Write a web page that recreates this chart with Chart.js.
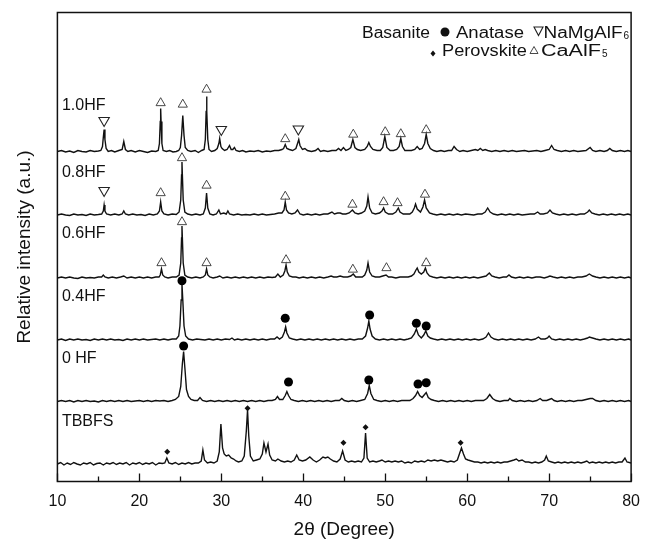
<!DOCTYPE html>
<html>
<head>
<meta charset="utf-8">
<script src="https://cdn.jsdelivr.net/npm/chart.js@4.4.1/dist/chart.umd.min.js"></script>
<style>
  body { margin: 0; background: #fff; }
  canvas { display: block; }
</style>
</head>
<body>
<canvas id="xrd" width="650" height="545"></canvas>
<script>
// XRD patterns, stacked. y values are heights above each pattern's own baseline
var names = ['1.0HF', '0.8HF', '0.6HF', '0.4HF', '0 HF', 'TBBFS'];
var offsets = [330, 266.5, 203.5, 141.5, 80, 17.5];
var labelY = [371.5, 305, 243.5, 180.5, 119, 56];
var xTicks = [10, 20, 30, 40, 50, 60, 70, 80];

var hf10 = [[10,0],[10.5,1],[11,-0.5],[11.5,0.5],[12,-1],[12.5,1],[13,0],[13.5,-0.5],[14,1],[14.5,0],[15,0.5],[15.3,1],[15.5,5],[15.6,14],[15.7,22],[15.8,12],[15.95,3],[16.2,0],[16.6,1],[17,-0.5],[17.5,1],[17.9,2],[18.1,10],[18.3,2],[18.6,0],[19,1],[19.5,-0.5],[20,1],[20.5,0],[21,-1],[21.5,0.5],[22,0],[22.3,1],[22.45,8],[22.55,30],[22.6,43],[22.65,30],[22.75,8],[22.9,1],[23.3,0],[23.7,1],[24.1,-0.5],[24.5,0],[24.8,1],[25.0,4],[25.15,16],[25.3,36],[25.45,16],[25.6,4],[25.9,1],[26.3,0],[26.8,1],[27.2,-1],[27.6,1],[27.9,2],[28.05,12],[28.15,40],[28.2,55],[28.25,40],[28.35,12],[28.5,2],[28.8,0],[29.2,1],[29.5,3],[29.7,8],[29.8,13],[29.95,5],[30.1,3],[30.4,1],[30.7,2],[31.0,6],[31.2,2],[31.4,2],[31.6,4],[31.8,1],[32.2,0],[32.6,1],[33,-0.5],[33.5,0.5],[34,0],[34.5,1],[35,-0.5],[35.5,0.5],[36,0],[36.5,1],[37,1],[37.4,2],[37.6,3],[37.8,7],[38.0,3],[38.3,2],[38.7,1],[39.1,3],[39.3,8],[39.45,12],[39.6,6],[39.9,2],[40.2,3],[40.5,1],[41,0],[41.5,1],[41.8,3],[42.1,0],[42.5,1],[43,0],[43.5,1],[44,1],[44.3,3],[44.6,1],[44.9,4],[45.2,1],[45.5,2],[45.8,4],[46.05,12],[46.3,4],[46.6,2],[47,1],[47.5,2],[47.8,5],[48.0,9],[48.2,5],[48.5,2],[49,1],[49.4,1],[49.7,4],[49.95,15],[50.2,4],[50.6,1],[51,1],[51.4,2],[51.7,5],[51.9,13],[52.1,5],[52.4,1],[52.8,1],[53.2,1],[53.6,2],[53.9,5],[54.2,2],[54.5,3],[54.8,8],[55.0,17],[55.2,8],[55.5,3],[55.9,1],[56.3,0],[56.8,1],[57.2,0],[57.7,1],[58.1,1],[58.4,5],[58.7,2],[59.1,0],[59.5,1],[60,0],[60.5,1],[61,2],[61.3,1],[61.6,3],[61.9,1],[62.2,2],[62.5,1],[63,0],[63.5,1],[64,0],[64.5,1],[65,0],[65.5,1],[66,0],[66.5,0.5],[67,1],[67.5,0],[68,0.5],[68.5,1],[69,0],[69.5,1],[70,2],[70.3,6],[70.6,2],[71,1],[71.5,0],[72,1],[72.5,0],[73,1],[73.5,0],[74,0.5],[74.5,1],[75.0,4],[75.3,1],[75.7,0],[76.2,1],[76.7,0],[77.1,1],[77.4,3],[77.7,1],[78.2,0],[78.7,1],[79.2,0],[79.6,1],[80,0]];

var hf08 = [[10,0],[10.5,1],[11,0],[11.5,-0.5],[12,1],[12.5,0],[13,0.5],[13.5,-0.5],[14,1],[14.5,0],[15,0.5],[15.4,1],[15.6,4],[15.7,10],[15.8,4],[16,1],[16.5,0],[17,1],[17.5,0],[17.9,1],[18.1,4],[18.3,1],[18.7,0],[19.2,1],[19.7,0],[20.2,0.5],[20.7,-0.5],[21.2,1],[21.7,0],[22.2,1],[22.45,4],[22.6,13],[22.75,4],[23,1],[23.5,0],[24,1],[24.5,0.5],[24.85,3],[25.05,15],[25.15,40],[25.2,53],[25.25,40],[25.35,15],[25.55,3],[25.9,1],[26.4,0],[26.9,1],[27.4,0],[27.8,1],[28.05,7],[28.2,22],[28.35,7],[28.6,1],[29,0],[29.4,1],[29.7,5],[29.9,1],[30.3,2],[30.6,1],[30.8,4],[31.0,1],[31.5,0],[32,1],[32.5,0],[33,0.5],[33.5,0],[34,1],[34.5,0],[35,1],[35.5,0],[36,0.5],[36.5,1],[37,2],[37.4,2],[37.65,5],[37.8,13],[37.95,5],[38.2,2],[38.6,1],[39,2],[39.3,5],[39.6,1],[40,0],[40.5,1],[41,0],[41.5,1],[42,0],[42.5,1],[43,1],[43.5,3],[43.8,1],[44.2,2],[44.5,2],[44.8,1],[45.2,1],[45.6,2],[46.0,5],[46.3,2],[46.7,1],[47.1,2],[47.5,4],[47.75,9],[47.9,18],[48.1,7],[48.4,2],[48.8,1],[49.3,2],[49.6,4],[49.8,7],[50.0,3],[50.4,1],[50.9,1],[51.3,3],[51.6,7],[51.8,3],[52.2,1],[52.6,1],[53,1],[53.3,3],[53.55,7],[53.7,11],[53.9,6],[54.3,3],[54.6,8],[54.8,15],[55.0,7],[55.4,2],[55.8,1],[56.3,0],[56.8,1],[57.3,0],[57.8,1],[58.3,0],[58.8,1],[59.3,0],[59.8,1],[60.3,0.5],[60.8,0],[61.3,1],[61.8,1],[62.2,3],[62.5,7],[62.8,3],[63.2,1],[63.7,0],[64.2,1],[64.7,0],[65.2,1],[65.7,0],[66.2,1],[66.7,0],[67.2,0.5],[67.7,1],[68.2,1],[68.6,3],[68.9,1],[69.3,1],[69.8,2],[70.1,5],[70.4,2],[70.8,1],[71.3,0],[71.8,1],[72.3,0],[72.8,1],[73.3,0],[73.8,1],[74.3,1],[74.7,3],[74.9,5],[75.2,2],[75.6,1],[76.1,0],[76.6,1],[77.1,0],[77.6,1],[78.1,0],[78.6,1],[79.1,0],[79.6,1],[80,0]];

var hf06 = [[10,0],[10.5,1],[11,0],[11.5,1],[12,0],[12.5,-0.5],[13,1],[13.5,0],[14,0.5],[14.5,0],[15,1],[15.4,1],[15.6,3],[15.8,1],[16.2,0],[16.7,1],[17.2,0],[17.7,1],[18.1,2],[18.5,0],[19,1],[19.5,0],[20,1],[20.5,0],[21,1],[21.5,0],[22,1],[22.4,1],[22.55,3],[22.7,9],[22.85,3],[23.1,1],[23.5,0],[24,1],[24.5,1],[24.85,3],[25.05,15],[25.15,40],[25.2,52],[25.25,40],[25.35,15],[25.55,3],[25.9,1],[26.4,0],[26.9,1],[27.4,0],[27.8,1],[28.05,3],[28.2,9],[28.35,3],[28.6,1],[29,0],[29.5,1],[29.8,2],[30.2,0],[30.7,1],[31.2,0],[31.7,1],[32.2,0],[32.7,1],[33.2,0],[33.7,1],[34.2,0],[34.7,1],[35.2,0],[35.7,1],[36.2,0.5],[36.6,1],[36.9,4],[37.2,1],[37.55,3],[37.75,7],[37.9,13],[38.05,6],[38.3,2],[38.7,1],[39.1,1],[39.5,0],[40,1],[40.5,0],[41,1],[41.5,0],[42,1],[42.5,0],[43,1],[43.4,2],[43.7,1],[44.1,1],[44.5,2],[44.9,1],[45.4,1],[45.8,2],[46.1,4],[46.4,1],[46.8,1],[47.2,1],[47.5,3],[47.75,8],[47.9,15],[48.1,6],[48.4,2],[48.8,1],[49.3,1],[49.7,2],[50.1,3],[50.4,1],[50.8,1],[51.3,0],[51.8,1],[52.3,1],[52.8,1],[53.2,2],[53.5,4],[53.75,8],[53.9,10],[54.1,6],[54.4,4],[54.7,6],[54.9,10],[55.1,5],[55.4,2],[55.8,1],[56.3,0],[56.8,1],[57.3,0],[57.8,1],[58.3,0],[58.8,1],[59.3,0],[59.8,1],[60.3,0],[60.8,1],[61.3,0],[61.8,1],[62.3,2],[62.7,5],[63.0,2],[63.4,1],[63.9,0],[64.4,1],[64.8,1],[65.1,3],[65.4,1],[65.9,0],[66.4,1],[66.9,0],[67.4,1],[67.9,0],[68.4,1],[68.9,1],[69.4,0],[69.8,1],[70.1,2],[70.5,1],[71,0],[71.5,1],[72,0],[72.5,1],[73,0],[73.5,1],[74,1],[74.5,2],[74.9,4],[75.3,2],[75.7,1],[76.2,0],[76.7,1],[77.2,0],[77.7,1],[78.2,0],[78.7,1],[79.2,0],[79.7,1],[80,0]];

var hf04 = [[10,0],[10.5,1],[11,-0.5],[11.5,1],[12,0],[12.5,1],[13,0],[13.5,0.5],[14,-0.5],[14.5,1],[15,0],[15.5,1],[16,0],[16.5,1],[17,0],[17.5,0.5],[18,-0.5],[18.5,1],[19,0],[19.5,1],[20,0],[20.5,1],[21,0],[21.5,0.5],[22,1],[22.5,0],[23,1],[23.5,0],[24,1],[24.5,1],[24.8,4],[24.95,14],[25.1,40],[25.2,56],[25.3,40],[25.45,14],[25.65,4],[26,1],[26.5,0],[27,1],[27.5,0.5],[28,0],[28.5,1],[29,0],[29.5,1],[30,0],[30.5,1],[31,0.5],[31.3,2],[31.6,0],[32,1],[32.5,0],[33,1],[33.5,0],[34,1],[34.5,0],[35,1],[35.5,0],[36,1],[36.5,1],[36.8,3],[37.1,1],[37.45,3],[37.7,8],[37.85,13],[38.0,7],[38.3,2],[38.7,1],[39.2,0],[39.7,1],[40.2,0],[40.7,1],[41.2,0],[41.7,1],[42.2,0],[42.7,1],[43.2,0],[43.7,1],[44.2,0],[44.7,1],[45.2,0],[45.7,1],[46.2,0],[46.7,1],[47.2,1],[47.6,4],[47.85,12],[48.0,19],[48.15,11],[48.4,4],[48.8,1],[49.3,0],[49.8,1],[50.3,0],[50.8,1],[51.3,0],[51.8,1],[52.3,0],[52.8,1],[53.2,2],[53.55,6],[53.8,11],[54.05,5],[54.4,2],[54.7,5],[54.95,9],[55.2,4],[55.5,2],[55.9,1],[56.4,0],[56.9,1],[57.4,0],[57.9,1],[58.4,0],[58.9,1],[59.4,0],[59.9,1],[60.4,0],[60.9,1],[61.4,0],[61.9,1],[62.3,3],[62.6,7],[62.9,3],[63.3,1],[63.8,0],[64.3,1],[64.8,0],[65.3,1],[65.8,0],[66.3,1],[66.8,0],[67.3,1],[67.8,0],[68.3,1],[68.7,3],[69.0,1],[69.5,1],[69.8,2],[70.0,4],[70.3,1],[70.8,0],[71.3,1],[71.8,0],[72.3,1],[72.8,0],[73.3,1],[73.8,0],[74.3,1],[74.7,2],[74.9,3],[75.3,2],[75.7,1],[76.2,0],[76.7,1],[77.2,0],[77.7,1],[78.2,0],[78.7,1],[79.2,0],[79.7,1],[80,0]];

var hf00 = [[10,0],[10.5,1],[11,0],[11.5,1],[12,-0.5],[12.5,1],[13,0],[13.5,1],[14,0],[14.5,0.5],[15,-0.5],[15.5,1],[16,0],[16.5,1],[17,0],[17.5,1],[18,0],[18.5,1],[19,0],[19.5,0.5],[20,1],[20.5,0],[21,1],[21.5,0],[22,1],[22.5,0.5],[23,1],[23.5,0],[24,1],[24.4,2],[24.8,5],[25.05,15],[25.25,38],[25.4,50],[25.55,34],[25.75,12],[26,5],[26.3,2],[26.7,1],[27.1,1],[27.4,4],[27.7,1],[28.2,0],[28.7,1],[29.2,0],[29.7,1],[30.2,0],[30.7,1],[31.2,0],[31.7,1],[32.2,0],[32.7,1],[33.2,0],[33.7,1],[34.2,0],[34.7,1],[35.2,0],[35.7,1],[36.2,1],[36.6,2],[36.85,5],[37.1,2],[37.5,2],[37.8,6],[38.0,10],[38.2,6],[38.5,2],[38.9,1],[39.4,0],[39.9,1],[40.4,0],[40.9,1],[41.4,0],[41.9,1],[42.4,0],[42.9,1],[43.4,0],[43.9,1],[44.4,1],[44.7,3],[45.0,1],[45.5,0],[46,1],[46.5,0],[47,1],[47.5,2],[47.85,8],[48.05,16],[48.25,8],[48.6,2],[49,1],[49.5,0],[50,1],[50.5,0],[51,1],[51.5,0],[52,1],[52.5,1],[53,1],[53.4,3],[53.7,6],[53.95,10],[54.2,6],[54.5,4],[54.8,7],[55.0,9],[55.25,4],[55.6,2],[56,1],[56.5,0],[57,1],[57.5,0],[58,1],[58.5,0],[59,1],[59.5,0],[60,1],[60.5,0],[61,1],[61.5,1],[62,1],[62.4,3],[62.75,7],[63.1,3],[63.5,1],[64,0],[64.5,1],[65,1],[65.2,3],[65.5,1],[66,0],[66.5,1],[67,0],[67.5,1],[68,0],[68.5,1],[68.9,3],[69.2,1],[69.7,1],[70.0,2],[70.3,3],[70.6,1],[71,0],[71.5,1],[72,0],[72.5,1],[73,0],[73.5,1],[74,1],[74.5,2],[75.0,3],[75.3,3],[75.7,1],[76.2,0],[76.7,1],[77.2,0],[77.7,1],[78.2,0],[78.7,1],[79.2,0],[79.7,1],[80,0]];

var tbbfs = [[10,0],[10.4,1.5],[10.8,-1],[11.2,1],[11.6,-0.5],[12,1.5],[12.4,0],[12.8,-1],[13.2,1],[13.6,0],[14,1.5],[14.4,-1],[14.8,0.5],[15.2,1],[15.6,-1],[16,1],[16.4,0],[16.8,1.5],[17.2,-0.5],[17.6,1],[18,0],[18.4,1.5],[18.8,-1],[19.2,1],[19.6,0],[20,1.5],[20.4,-0.5],[20.8,1],[21.2,0],[21.6,1.5],[22,-1],[22.4,1],[22.8,0.5],[23.1,1],[23.35,6],[23.6,1],[24,0],[24.4,1.5],[24.8,-0.5],[25.2,1],[25.6,0],[26,1.5],[26.4,0],[26.8,1],[27.2,1],[27.55,3],[27.75,14],[27.95,4],[28.3,1],[28.7,2],[29.1,1],[29.5,3],[29.75,12],[29.95,40],[30.15,16],[30.35,10],[30.6,8],[30.9,9],[31.2,6],[31.5,5],[31.8,3],[32.1,2],[32.5,3],[32.8,8],[33.05,33],[33.2,54],[33.35,28],[33.55,8],[33.9,3],[34.3,4],[34.7,5],[35.0,10],[35.2,21],[35.45,12],[35.7,20],[35.9,9],[36.2,4],[36.6,3],[36.9,5],[37.3,3],[37.7,2],[38.1,3],[38.5,2],[38.9,4],[39.2,9],[39.5,4],[39.9,3],[40.3,4],[40.8,7],[41.2,4],[41.6,2],[42,4],[42.4,7],[42.7,6],[43.0,7],[43.3,5],[43.7,3],[44.1,2],[44.5,5],[44.8,13],[45.1,4],[45.5,2],[45.9,3],[46.3,2],[46.7,3],[47.1,2],[47.4,6],[47.6,31],[47.8,6],[48.1,2],[48.5,3],[48.9,2],[49.3,3],[49.6,4],[50,2],[50.4,3],[50.8,2],[51.2,3],[51.6,2],[52,3],[52.4,1],[52.8,2],[53.2,1],[53.6,3],[54,2],[54.4,3],[54.8,2],[55.2,4],[55.6,3],[56,4],[56.4,3],[56.8,4],[57.2,3],[57.6,2],[58,3],[58.4,2],[58.8,4],[59.05,10],[59.3,16],[59.55,10],[59.8,5],[60.1,4],[60.5,3],[60.9,2],[61.3,2],[61.7,1],[62.1,2],[62.5,1],[62.9,2],[63.3,1],[63.7,2],[64.1,1],[64.5,2],[64.9,2],[65.3,3],[65.7,4],[66.0,5],[66.3,3],[66.7,4],[67.1,2],[67.5,2],[67.9,1],[68.3,2],[68.7,1],[69.1,2],[69.45,4],[69.65,8],[69.9,3],[70.3,2],[70.7,1],[71.1,2],[71.5,1],[71.9,2],[72.3,1],[72.7,2],[73.1,1],[73.5,2],[73.9,1],[74.3,2],[74.6,3],[74.9,1],[75.3,2],[75.7,1],[76.1,2],[76.5,1],[76.9,2],[77.3,1],[77.7,2],[78.1,1],[78.5,2],[78.9,2],[79.25,6],[79.5,2],[80,1]];

// phase markers (2theta, stacked height)
var caAlF5 = [[22.6,378.5],[25.3,377],[28.2,392],[37.8,342.5],[46.1,347],[50.0,349.5],[51.9,347.5],[55.0,351.5],
              [22.6,288.5],[25.2,323.5],[28.2,296],[37.8,285],[46.0,277],[49.8,279.5],[51.5,278.5],[54.85,287],
              [22.7,218.5],[25.2,259.5],[28.2,218.5],[37.9,221.5],[46.05,212],[50.15,213.5],[55.0,218.5]];
var naMgAlF6 = [[15.7,361],[30.0,352],[39.4,352.5],[15.7,291]];
var anatase = [[25.2,200.8],[37.8,163.2],[48.1,166.5],[53.8,158.2],[55.0,155.5],
               [25.4,135.5],[38.2,99.5],[48.0,101.5],[54.0,97.5],[55.0,98.8]];
var perovskite = [[23.4,29.8],[33.2,73.2],[44.9,38.8],[47.6,54.2],[59.2,38.8]];

var patterns = [hf10, hf08, hf06, hf04, hf00, tbbfs];

function toXY(pts, off) {
  return pts.map(function (p) { return { x: p[0], y: p[1] + (off || 0) }; });
}

var datasets = patterns.map(function (pts, i) {
  return {
    label: names[i],
    data: toXY(pts, offsets[i]),
    showLine: true,
    borderColor: '#111',
    borderWidth: 1.4,
    pointRadius: 0,
    order: 2
  };
});

datasets.push({ label: 'CaAlF5', data: toXY(caAlF5), pointStyle: 'triangle', pointRadius: 5.3,
  backgroundColor: 'rgba(0,0,0,0)', borderColor: '#333', borderWidth: 0.9, order: 1 });
datasets.push({ label: 'NaMgAlF6', data: toXY(naMgAlF6), pointStyle: 'triangle', rotation: 180, pointRadius: 6,
  backgroundColor: 'rgba(0,0,0,0)', borderColor: '#222', borderWidth: 1.1, order: 1 });
datasets.push({ label: 'Anatase', data: toXY(anatase), pointStyle: 'circle', pointRadius: 4.5,
  backgroundColor: '#000', borderColor: '#000', borderWidth: 0, order: 1 });
datasets.push({ label: 'Perovskite', data: toXY(perovskite), pointStyle: 'rectRot', pointRadius: 3,
  backgroundColor: '#111', borderColor: '#111', borderWidth: 0, order: 1 });

var FONT = "'Liberation Sans', Arial, sans-serif";

// text squeezed/stretched to the width it has in the original key
function fitText(ctx, s, x, y, w) {
  var m = ctx.measureText(s).width;
  ctx.save();
  ctx.translate(x, y);
  ctx.scale(w / m, 1);
  ctx.fillText(s, 0, 0);
  ctx.restore();
}

// frame, inward ticks, pattern names, phase key
var decor = {
  id: 'decor',
  afterDraw: function (chart) {
    var ctx = chart.ctx, a = chart.chartArea;
    var xs = chart.scales.x, ys = chart.scales.y;
    ctx.save();
    ctx.strokeStyle = '#111';
    ctx.lineWidth = 1.5;
    ctx.strokeRect(a.left, a.top, a.right - a.left, a.bottom - a.top);
    ctx.lineWidth = 1.3;
    for (var v = 10; v <= 80; v += 5) {
      var px = Math.round(xs.getPixelForValue(v)) + 0.5;
      var len = v % 10 === 0 ? 8 : 5;
      ctx.beginPath();
      ctx.moveTo(px, a.bottom);
      ctx.lineTo(px, a.bottom - len);
      ctx.stroke();
    }

    ctx.fillStyle = '#111';
    ctx.font = '16px ' + FONT;
    ctx.textAlign = 'left';
    ctx.textBaseline = 'alphabetic';
    names.forEach(function (n, i) {
      ctx.fillText(n, xs.getPixelForValue(10.55), ys.getPixelForValue(labelY[i]));
    });

    // key
    ctx.font = '16px ' + FONT;
    fitText(ctx, 'Basanite', 362, 37.5, 68);
    ctx.beginPath();
    ctx.arc(445, 32, 4.5, 0, Math.PI * 2);
    ctx.fill();
    fitText(ctx, 'Anatase', 456, 37.5, 68);
    ctx.lineWidth = 1.1;
    ctx.strokeStyle = '#222';
    ctx.beginPath();
    ctx.moveTo(534, 27); ctx.lineTo(543, 27); ctx.lineTo(538.5, 35.5); ctx.closePath();
    ctx.stroke();
    fitText(ctx, 'NaMgAlF', 543.5, 37.5, 79);
    ctx.font = '10px ' + FONT;
    ctx.fillText('6', 623.5, 38.5);

    ctx.font = '16px ' + FONT;
    ctx.beginPath();
    ctx.moveTo(433, 50.5); ctx.lineTo(435.5, 53.5); ctx.lineTo(433, 56.5); ctx.lineTo(430.5, 53.5); ctx.closePath();
    ctx.fill();
    fitText(ctx, 'Perovskite', 442, 56, 85);
    ctx.lineWidth = 0.9;
    ctx.strokeStyle = '#333';
    ctx.beginPath();
    ctx.moveTo(530, 53.5); ctx.lineTo(538, 53.5); ctx.lineTo(534, 46.5); ctx.closePath();
    ctx.stroke();
    fitText(ctx, 'CaAlF', 541, 56, 60);
    ctx.font = '10px ' + FONT;
    ctx.fillText('5', 602, 57);
    ctx.restore();
  }
};

new Chart(document.getElementById('xrd').getContext('2d'), {
  type: 'scatter',
  data: { datasets: datasets },
  plugins: [decor],
  options: {
    responsive: false,
    animation: false,
    devicePixelRatio: 1,
    layout: { padding: { top: 12.5, right: 9.6, left: 0, bottom: 0 } },
    plugins: { legend: { display: false }, tooltip: { enabled: false } },
    scales: {
      x: {
        type: 'linear', min: 10, max: 80,
        afterBuildTicks: function (s) { s.ticks = xTicks.map(function (v) { return { value: v }; }); },
        afterFit: function (s) { s.height = 63.5; },
        grid: { display: false, drawTicks: false },
        border: { display: false },
        ticks: { padding: 10, color: '#111', font: { family: FONT, size: 16 } },
        title: { display: true, text: '2θ (Degree)', color: '#111',
                 font: { family: FONT, size: 19 }, padding: { top: 0, bottom: 4 } }
      },
      y: {
        min: 0, max: 469,
        afterFit: function (s) { s.width = 57.4; },
        grid: { display: false, drawTicks: false },
        border: { display: false },
        ticks: { display: false },
        title: { display: true, text: 'Relative intensity (a.u.)', color: '#111',
                 font: { family: FONT, size: 19 }, padding: { top: 13, bottom: 0 } }
      }
    }
  }
});
</script>
</body>
</html>
